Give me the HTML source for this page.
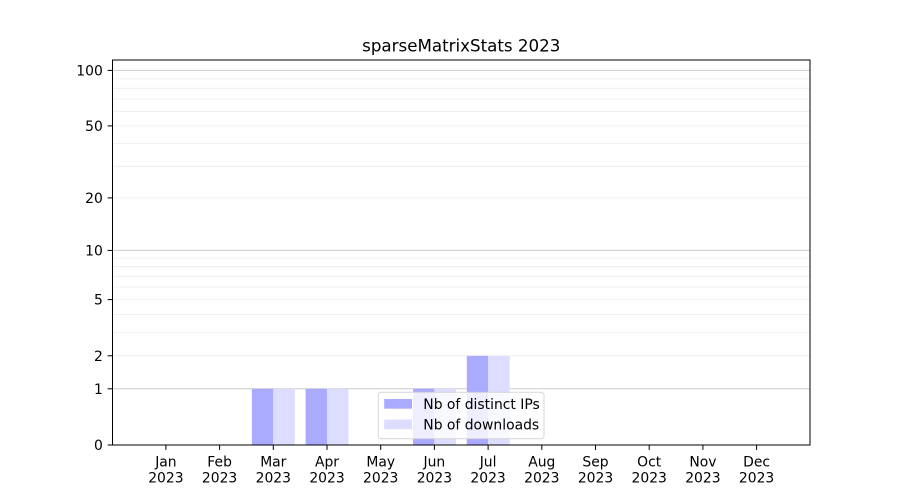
<!DOCTYPE html>
<html><head><meta charset="utf-8"><style>
html,body{margin:0;padding:0;background:#fff;}
svg{display:block;font-family:"DejaVu Sans","Liberation Sans",sans-serif;}
</style></head><body>
<svg width="900" height="500" viewBox="0 0 900 500" xmlns="http://www.w3.org/2000/svg">
<rect width="900" height="500" fill="#fff"/>
<!-- minor gridlines -->
<g stroke="#ebebeb" stroke-width="0.8">
<line x1="112.5" x2="810" y1="355.8" y2="355.8"/>
<line x1="112.5" x2="810" y1="332.5" y2="332.5"/>
<line x1="112.5" x2="810" y1="314.4" y2="314.4"/>
<line x1="112.5" x2="810" y1="299.6" y2="299.6"/>
<line x1="112.5" x2="810" y1="287.0" y2="287.0"/>
<line x1="112.5" x2="810" y1="276.2" y2="276.2"/>
<line x1="112.5" x2="810" y1="266.7" y2="266.7"/>
<line x1="112.5" x2="810" y1="258.1" y2="258.1"/>
<line x1="112.5" x2="810" y1="197.9" y2="197.9"/>
<line x1="112.5" x2="810" y1="166.3" y2="166.3"/>
<line x1="112.5" x2="810" y1="143.6" y2="143.6"/>
<line x1="112.5" x2="810" y1="125.9" y2="125.9"/>
<line x1="112.5" x2="810" y1="111.3" y2="111.3"/>
<line x1="112.5" x2="810" y1="99.0" y2="99.0"/>
<line x1="112.5" x2="810" y1="88.3" y2="88.3"/>
<line x1="112.5" x2="810" y1="78.9" y2="78.9"/>
</g>
<g stroke="#cccccc" stroke-width="1">
<line x1="112.5" x2="810" y1="388.8" y2="388.8"/>
<line x1="112.5" x2="810" y1="250.4" y2="250.4"/>
<line x1="112.5" x2="810" y1="70.4" y2="70.4"/>
</g>
<!-- bars -->
<g>
<rect x="251.9" y="388.8" width="21.4" height="56.2" fill="#aaaaff"/>
<rect x="273.3" y="388.8" width="21.5" height="56.2" fill="#ddddff"/>
<rect x="305.6" y="388.8" width="21.4" height="56.2" fill="#aaaaff"/>
<rect x="327.0" y="388.8" width="21.5" height="56.2" fill="#ddddff"/>
<rect x="413.0" y="388.8" width="21.4" height="56.2" fill="#aaaaff"/>
<rect x="434.4" y="388.8" width="21.5" height="56.2" fill="#ddddff"/>
<rect x="466.8" y="355.8" width="21.4" height="89.2" fill="#aaaaff"/>
<rect x="488.2" y="355.8" width="21.5" height="89.2" fill="#ddddff"/>
</g>
<!-- axes frame -->
<rect x="112.5" y="60" width="697.5" height="385" fill="none" stroke="#000" stroke-width="1"/>
<!-- y ticks -->
<g stroke="#000" stroke-width="1">
<line x1="107.6" x2="112.5" y1="445" y2="445"/>
<line x1="107.6" x2="112.5" y1="388.8" y2="388.8"/>
<line x1="107.6" x2="112.5" y1="355.8" y2="355.8"/>
<line x1="107.6" x2="112.5" y1="299.6" y2="299.6"/>
<line x1="107.6" x2="112.5" y1="250.4" y2="250.4"/>
<line x1="107.6" x2="112.5" y1="197.9" y2="197.9"/>
<line x1="107.6" x2="112.5" y1="125.9" y2="125.9"/>
<line x1="107.6" x2="112.5" y1="70.4" y2="70.4"/>
</g>
<g font-size="13.9" fill="#000" text-anchor="end">
<text x="102.8" y="450">0</text>
<text x="102.8" y="393.8">1</text>
<text x="102.8" y="360.8">2</text>
<text x="102.8" y="304.6">5</text>
<text x="102.8" y="255.4">10</text>
<text x="102.8" y="202.9">20</text>
<text x="102.8" y="130.9">50</text>
<text x="102.8" y="75.4">100</text>
</g>
<!-- x ticks -->
<g stroke="#000" stroke-width="1">
<line x1="165.9" x2="165.9" y1="445" y2="449.9"/>
<line x1="219.6" x2="219.6" y1="445" y2="449.9"/>
<line x1="273.3" x2="273.3" y1="445" y2="449.9"/>
<line x1="327.0" x2="327.0" y1="445" y2="449.9"/>
<line x1="380.7" x2="380.7" y1="445" y2="449.9"/>
<line x1="434.4" x2="434.4" y1="445" y2="449.9"/>
<line x1="488.1" x2="488.1" y1="445" y2="449.9"/>
<line x1="541.8" x2="541.8" y1="445" y2="449.9"/>
<line x1="595.5" x2="595.5" y1="445" y2="449.9"/>
<line x1="649.2" x2="649.2" y1="445" y2="449.9"/>
<line x1="702.9" x2="702.9" y1="445" y2="449.9"/>
<line x1="756.6" x2="756.6" y1="445" y2="449.9"/>
</g>
<g font-size="13.9" fill="#000" text-anchor="middle">
<text x="165.9" y="466.5">Jan</text><text x="165.9" y="482.5">2023</text>
<text x="219.6" y="466.5">Feb</text><text x="219.6" y="482.5">2023</text>
<text x="273.3" y="466.5">Mar</text><text x="273.3" y="482.5">2023</text>
<text x="327.0" y="466.5">Apr</text><text x="327.0" y="482.5">2023</text>
<text x="380.7" y="466.5">May</text><text x="380.7" y="482.5">2023</text>
<text x="434.4" y="466.5">Jun</text><text x="434.4" y="482.5">2023</text>
<text x="488.1" y="466.5">Jul</text><text x="488.1" y="482.5">2023</text>
<text x="541.8" y="466.5">Aug</text><text x="541.8" y="482.5">2023</text>
<text x="595.5" y="466.5">Sep</text><text x="595.5" y="482.5">2023</text>
<text x="649.2" y="466.5">Oct</text><text x="649.2" y="482.5">2023</text>
<text x="702.9" y="466.5">Nov</text><text x="702.9" y="482.5">2023</text>
<text x="756.6" y="466.5">Dec</text><text x="756.6" y="482.5">2023</text>
</g>
<!-- title -->
<text x="461.25" y="51.7" font-size="16.7" text-anchor="middle" fill="#000">sparseMatrixStats 2023</text>
<!-- legend -->
<rect x="378.3" y="392.3" width="165.7" height="46.4" rx="2.8" ry="2.8" fill="#fff" fill-opacity="0.8" stroke="#cccccc" stroke-opacity="0.8" stroke-width="1"/>
<rect x="384.2" y="399" width="27.8" height="9.7" fill="#aaaaff"/>
<rect x="384.2" y="419.5" width="27.8" height="9.7" fill="#ddddff"/>
<g font-size="13.9" fill="#000">
<text x="423.3" y="408.9">Nb of distinct IPs</text>
<text x="423.3" y="429.4">Nb of downloads</text>
</g>
</svg>
</body></html>
